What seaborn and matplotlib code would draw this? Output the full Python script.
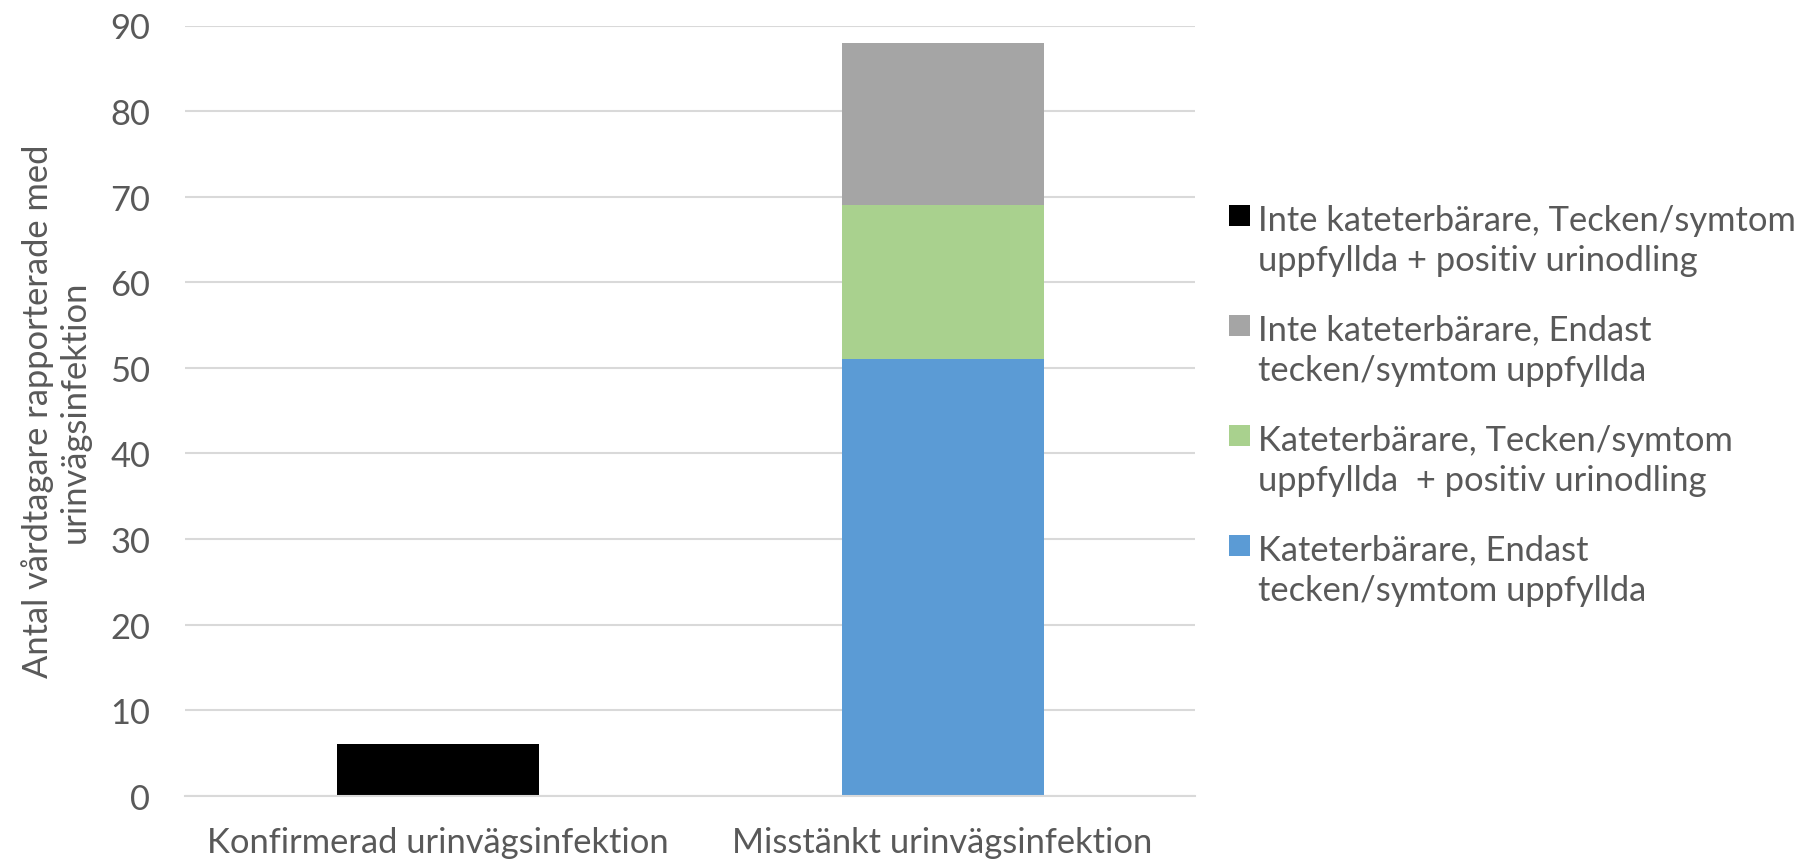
import matplotlib
matplotlib.use("Agg")
import matplotlib.pyplot as plt
from matplotlib.patches import Rectangle
import numpy as np
import seaborn as sns

# Categories and stacked series (counts of care recipients)
categories = ["Konfirmerad urinvägsinfektion", "Misstänkt urinvägsinfektion"]
kat_endast = [0, 51]          # Kateterbärare, Endast tecken/symtom uppfyllda
kat_tecken_pos = [0, 18]      # Kateterbärare, Tecken/symtom uppfyllda + positiv urinodling
inte_endast = [0, 19]         # Inte kateterbärare, Endast tecken/symtom uppfyllda
inte_tecken_pos = [6, 0]      # Inte kateterbärare, Tecken/symtom uppfyllda + positiv urinodling

series_labels = [
    "Kateterbärare, Endast\ntecken/symtom uppfyllda",
    "Kateterbärare, Tecken/symtom\nuppfyllda  + positiv urinodling",
    "Inte kateterbärare, Endast\ntecken/symtom uppfyllda",
    "Inte kateterbärare, Tecken/symtom\nuppfyllda + positiv urinodling",
]
series_values = [kat_endast, kat_tecken_pos, inte_endast, inte_tecken_pos]
series_colors = ["#5b9bd5", "#a9d18e", "#a5a5a5", "#000000"]

y_ticks = [0, 10, 20, 30, 40, 50, 60, 70, 80, 90]
y_label = "Antal vårdtagare rapporterade med\nurinvägsinfektion"

sns.set_theme(style="white")
plt.rcParams["font.family"] = ["Lato", "DejaVu Sans"]

text_color = "#595959"
grid_color = "#d9d9d9"
fs = 24.8

fig = plt.figure(figsize=(18.05, 8.62), dpi=100)
ax = fig.add_axes([185 / 1805, 1 - 796.7 / 862, 1010 / 1805, (796.7 - 26.5) / 862])

bottom = np.zeros(len(categories))
for vals, color in zip(series_values, series_colors):
    sns.barplot(x=categories, y=vals, bottom=bottom, color=color,
                width=0.4, linewidth=0, saturation=1, ax=ax)
    bottom = bottom + np.array(vals)

ax.set_ylim(0, 90)
ax.set_xlim(-0.5, 1.5)
ax.set_yticks(y_ticks)
ax.set_yticklabels([str(t) for t in y_ticks])
ax.yaxis.grid(True, color=grid_color, linewidth=1.5)
ax.set_axisbelow(True)
for side in ["left", "right", "top"]:
    ax.spines[side].set_visible(False)
ax.spines["bottom"].set_color(grid_color)
ax.spines["bottom"].set_linewidth(1.5)
ax.tick_params(axis="both", length=0, labelsize=fs, labelcolor=text_color)
ax.tick_params(axis="y", pad=25)
ax.tick_params(axis="x", pad=22)

ax.set_ylabel(y_label, fontsize=fs, color=text_color, va="center",
              ha="center", linespacing=1.19)
ax.yaxis.set_label_coords(-0.128, 0.5)

# Legend drawn as colour squares beside wrapped labels, top entry first
sq = 21
x_sq = 1229
x_txt = 1258
base_y0 = 227
line_gap = 44
step = 110
for i, (lab, col) in enumerate(zip(series_labels[::-1], series_colors[::-1])):
    by = base_y0 + i * step
    fig.patches.append(Rectangle((x_sq / 1805, 1 - by / 862), sq / 1805, sq / 862,
                                 transform=fig.transFigure, facecolor=col,
                                 edgecolor="none"))
    fig.text(x_txt / 1805, 1 - (by + line_gap) / 862, lab, fontsize=fs,
             color=text_color, ha="left", va="baseline", linespacing=1.32)

fig.savefig("out.png", dpi=100)
